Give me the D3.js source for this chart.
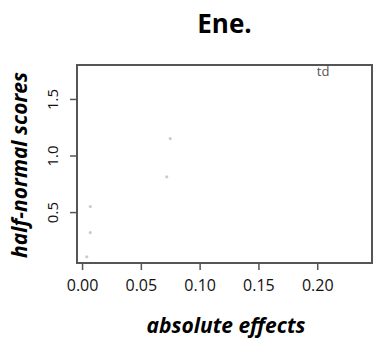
<!DOCTYPE html>
<html>
<head>
<meta charset="utf-8">
<script src="https://cdn.jsdelivr.net/npm/d3@7"></script>
<style>
  html, body { margin: 0; padding: 0; background: #fff; }
  svg { display: block; }
</style>
</head>
<body>
<div id="chart"></div>
<script>
// Half-normal plot of absolute effects for "Ene."
const effectNames = ["e1", "e2", "e3", "e4", "e5", "td"];
const absEffects = [0.004, 0.007, 0.007, 0.072, 0.075, 0.205];
const halfNormalScores = [0.105, 0.319, 0.549, 0.812, 1.150, 1.732];
const labelled = ["td"];
const xTicks = [0.00, 0.05, 0.10, 0.15, 0.20];
const yTicks = [0.5, 1.0, 1.5];

const W = 386, H = 341;
const frame = { left: 77, right: 372, top: 65, bottom: 263 };

const svg = d3.select("#chart").append("svg")
  .attr("width", W).attr("height", H);

const x = d3.scaleLinear().domain([-0.0043, 0.2466]).range([frame.left, frame.right]);
const y = d3.scaleLinear().domain([0.05, 1.80]).range([frame.bottom, frame.top]);

const axisColor = "#555";
const font = "'Open Sans', 'Noto Sans', sans-serif";

// x axis
const gx = svg.append("g")
  .attr("transform", `translate(0,${frame.bottom})`)
  .call(d3.axisBottom(x).tickValues(xTicks).tickFormat(d3.format(".2f")).tickSize(7).tickPadding(10));
gx.select(".domain").remove();
gx.selectAll(".tick line").attr("stroke", axisColor).attr("stroke-width", 1.5);
gx.selectAll(".tick text").attr("font-family", font).attr("font-size", 16).attr("fill", "#111");

// y axis
const gy = svg.append("g")
  .attr("transform", `translate(${frame.left},0)`)
  .call(d3.axisLeft(y).tickValues(yTicks).tickFormat(d3.format(".1f")).tickSize(7).tickPadding(4));
gy.select(".domain").remove();
gy.selectAll(".tick line").attr("stroke", axisColor).attr("stroke-width", 1.5);
gy.selectAll(".tick text")
  .attr("font-family", font).attr("font-size", 15).attr("fill", "#111")
  .attr("text-anchor", "middle").attr("dy", null).attr("x", null)
  .attr("transform", "translate(-23,0) rotate(-90)")
  .attr("dominant-baseline", "middle");

// plot frame
svg.append("rect")
  .attr("x", frame.left).attr("y", frame.top)
  .attr("width", frame.right - frame.left).attr("height", frame.bottom - frame.top)
  .attr("fill", "none").attr("stroke", axisColor).attr("stroke-width", 2);

// points
const pts = absEffects.map((v, i) => ({ name: effectNames[i], x: v, y: halfNormalScores[i] }));
svg.append("g").selectAll("circle")
  .data(pts.filter(d => !labelled.includes(d.name)))
  .join("circle")
  .attr("cx", d => x(d.x)).attr("cy", d => y(d.y))
  .attr("r", 1.6)
  .attr("fill", "#aaa").attr("opacity", 0.6);

// labelled effects
svg.append("g").selectAll("text")
  .data(pts.filter(d => labelled.includes(d.name)))
  .join("text")
  .attr("x", d => x(d.x)).attr("y", d => y(d.y))
  .attr("text-anchor", "middle").attr("dominant-baseline", "middle")
  .attr("font-family", font).attr("font-size", 13).attr("fill", "#555")
  .text(d => d.name);

// title
svg.append("text")
  .attr("x", (frame.left + frame.right) / 2).attr("y", 33)
  .attr("text-anchor", "middle")
  .attr("font-family", font).attr("font-weight", "bold").attr("font-size", 26)
  .attr("fill", "#000")
  .text("Ene.");

// axis titles
svg.append("text")
  .attr("x", 226).attr("y", 333)
  .attr("text-anchor", "middle")
  .attr("font-family", font).attr("font-weight", "bold").attr("font-style", "italic")
  .attr("font-size", 21).attr("fill", "#000")
  .text("absolute effects");

svg.append("text")
  .attr("transform", `translate(27,165) rotate(-90)`)
  .attr("text-anchor", "middle")
  .attr("font-family", font).attr("font-weight", "bold").attr("font-style", "italic")
  .attr("font-size", 21).attr("fill", "#000")
  .text("half-normal scores");
</script>
</body>
</html>
